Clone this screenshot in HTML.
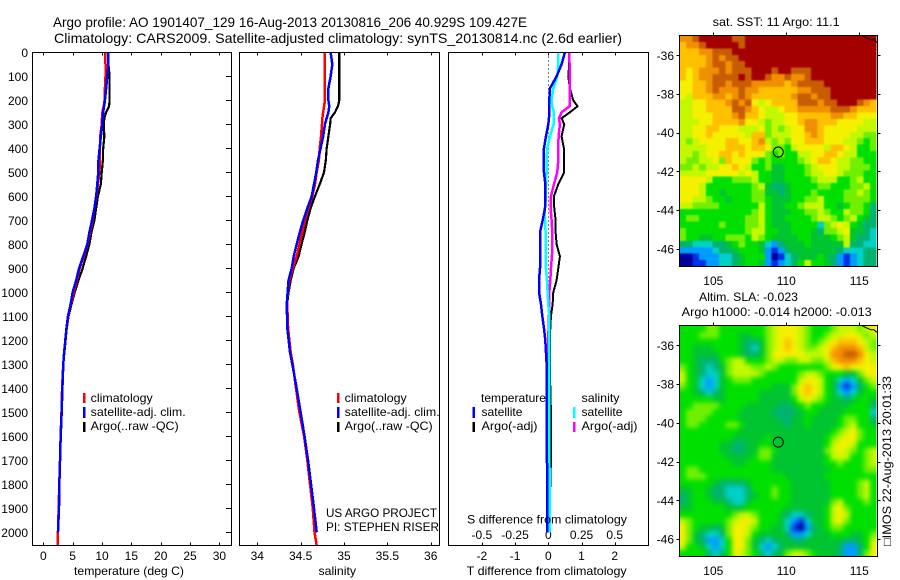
<!DOCTYPE html>
<html>
<head>
<meta charset="utf-8">
<title>Argo profile</title>
<style>
html,body{margin:0;padding:0;background:#fff;}
svg{display:block;}
text{font-family:"Liberation Sans",sans-serif;font-size:12px;fill:#000;}
</style>
</head>
<body>
<svg id="fig" width="900" height="580" viewBox="0 0 900 580" xmlns="http://www.w3.org/2000/svg">
<defs>
<clipPath id="sstClip"><rect x="679.5" y="35.5" width="197" height="231"/></clipPath>
<clipPath id="slaClip"><rect x="679.5" y="325.5" width="197" height="231"/></clipPath>
<filter id="sstBlur" x="-10%" y="-10%" width="120%" height="120%" color-interpolation-filters="sRGB"><feGaussianBlur stdDeviation="0.9"/></filter>
<filter id="slaBlur" x="-10%" y="-10%" width="120%" height="120%" color-interpolation-filters="sRGB"><feGaussianBlur stdDeviation="2.4"/></filter>
</defs>
<rect width="900" height="580" fill="#fff"/>
<g id="marks"></g>
<g id="frames" fill="none" stroke="#000" stroke-width="1" shape-rendering="crispEdges">
<rect x="32.5" y="52.5" width="199" height="493"/>
<rect x="239.5" y="52.5" width="200" height="493"/>
<rect x="448.5" y="52.5" width="200" height="493"/>
<rect x="679.5" y="35.5" width="198" height="231"/>
<rect x="679.5" y="325.5" width="198" height="231"/>
</g>
<text x="53" y="27" style="font-size:14px" textLength="474" lengthAdjust="spacingAndGlyphs">Argo profile: AO 1901407_129 16-Aug-2013 20130816_206 40.929S 109.427E</text>
<text x="54" y="43" style="font-size:14px" textLength="568" lengthAdjust="spacingAndGlyphs">Climatology: CARS2009. Satellite-adjusted climatology: synTS_20130814.nc (2.6d earlier)</text>
<text x="74" y="575" textLength="110" lengthAdjust="spacingAndGlyphs">temperature (deg C)</text>
<text x="318.5" y="575" textLength="37.5" lengthAdjust="spacingAndGlyphs">salinity</text>
<text x="466.7" y="575" textLength="160" lengthAdjust="spacingAndGlyphs">T difference from climatology</text>
<text x="467" y="523.5" textLength="160" lengthAdjust="spacingAndGlyphs">S difference from climatology</text>
<text x="326" y="517" textLength="111" lengthAdjust="spacingAndGlyphs">US ARGO PROJECT</text>
<text x="326" y="531" textLength="113" lengthAdjust="spacingAndGlyphs">PI: STEPHEN RISER</text>
<g>
<rect x="83" y="393" width="2.5" height="10" fill="#f00"/>
<rect x="83" y="407" width="2.5" height="11" fill="#00f"/>
<rect x="83" y="422" width="2.5" height="10" fill="#000"/>
<text x="90.7" y="402" textLength="62" lengthAdjust="spacingAndGlyphs">climatology</text>
<text x="90.7" y="416" textLength="95" lengthAdjust="spacingAndGlyphs">satellite-adj. clim.</text>
<text x="90.7" y="430" textLength="88" lengthAdjust="spacingAndGlyphs">Argo(..raw -QC)</text>
</g>
<g>
<rect x="337" y="393" width="2.5" height="10" fill="#f00"/>
<rect x="337" y="407" width="2.5" height="11" fill="#00f"/>
<rect x="337" y="422" width="2.5" height="10" fill="#000"/>
<text x="344.7" y="402" textLength="62" lengthAdjust="spacingAndGlyphs">climatology</text>
<text x="344.7" y="416" textLength="95" lengthAdjust="spacingAndGlyphs">satellite-adj. clim.</text>
<text x="344.7" y="430" textLength="88" lengthAdjust="spacingAndGlyphs">Argo(..raw -QC)</text>
</g>
<g>
<text x="481" y="402" textLength="65" lengthAdjust="spacingAndGlyphs">temperature</text>
<text x="481.5" y="416" textLength="41" lengthAdjust="spacingAndGlyphs">satellite</text>
<text x="481.5" y="430" textLength="56" lengthAdjust="spacingAndGlyphs">Argo(-adj)</text>
<rect x="472.5" y="407" width="2.5" height="11" fill="#00f"/>
<rect x="472.5" y="422" width="2.5" height="10" fill="#000"/>
<text x="581.5" y="402" textLength="38" lengthAdjust="spacingAndGlyphs">salinity</text>
<text x="581.5" y="416" textLength="41" lengthAdjust="spacingAndGlyphs">satellite</text>
<text x="581.5" y="430" textLength="56" lengthAdjust="spacingAndGlyphs">Argo(-adj)</text>
<rect x="573" y="407" width="2.5" height="11" fill="#0ff"/>
<rect x="573" y="422" width="2.5" height="10" fill="#f0f"/>
</g>
<text x="712.7" y="26" textLength="127" lengthAdjust="spacingAndGlyphs">sat. SST: 11 Argo: 11.1</text>
<text x="699" y="301" textLength="99" lengthAdjust="spacingAndGlyphs">Altim. SLA: -0.023</text>
<text x="681.7" y="316" textLength="190" lengthAdjust="spacingAndGlyphs">Argo h1000: -0.014 h2000: -0.013</text>
<text transform="translate(891,546) rotate(-90)" x="0" y="0" textLength="170" lengthAdjust="spacingAndGlyphs">□IMOS 22-Aug-2013 20:01:33</text>
</svg>
<script>
// ---- profile data ----
var depths = [0,50,100,150,200,225,250,275,300,350,400,450,500,550,600,650,700,750,800,850,900,950,1000,1050,1100,1150,1200,1250,1300,1400,1500,1600,1700,1800,1900,2000,2055];
var depthTicks = [0,100,200,300,400,500,600,700,800,900,1000,1100,1200,1300,1400,1500,1600,1700,1800,1900,2000];
var tempTicks = [0,5,10,15,20,25,30];
var salTicks = [34,34.5,35,35.5,36];
var salTickLabels = ['34','34.5','35','35.5','36'];
var tDiffTicks = [-2,-1,0,1,2];
var sDiffTicks = [-0.5,-0.25,0,0.25,0.5];
var sDiffLabels = ['-0.5','-0.25','0','0.25','0.5'];

var tempClim = [10.55,10.6,10.6,10.5,10.45,10.3,10.05,10,9.95,9.7,9.65,9.65,9.55,9.3,9.05,8.7,8.4,7.95,7.55,6.9,6.2,5.7,5.2,4.7,4.25,3.95,3.75,3.55,3.4,3.2,3.1,2.95,2.85,2.72,2.62,2.5,2.5];
var tempSat = [11.1,11.1,10.9,10.7,10.5,10.35,10.2,10.1,10.05,9.8,9.6,9.4,9.37,9.2,9,8.7,8.3,7.85,7.5,6.8,6.1,5.6,5,4.65,4.2,3.95,3.75,3.55,3.4,3.25,3.13,2.96,2.85,2.73,2.67,2.5];
var tempArgo = [11.1,11.1,11.3,11.3,11.3,11.2,10.7,10.4,10.3,10.4,10.2,10.15,9.95,9.8,9.3,9,8.7,8.2,7.85,7.3,6.7,6,5.35,4.8,4.3,4,3.8,3.6,3.4,3.25,3.13,2.96,2.85,2.73,2.67,2.5];
var salClim = [34.78,34.78,34.78,34.78,34.78,34.77,34.76,34.75,34.746,34.735,34.72,34.71,34.685,34.665,34.634,34.59,34.55,34.52,34.485,34.454,34.41,34.37,34.35,34.345,34.35,34.355,34.37,34.385,34.41,34.446,34.485,34.54,34.577,34.608,34.64,34.66,34.685];
var salSat = [34.846,34.865,34.846,34.82,34.82,34.83,34.82,34.8,34.78,34.76,34.73,34.7,34.68,34.654,34.627,34.577,34.53,34.49,34.454,34.42,34.397,34.36,34.35,34.34,34.343,34.346,34.362,34.377,34.404,34.454,34.5,34.545,34.585,34.62,34.654,34.685];
var salArgo = [34.946,34.946,34.946,34.946,34.946,34.93,34.896,34.846,34.84,34.82,34.8,34.79,34.77,34.72,34.665,34.615,34.577,34.547,34.51,34.477,34.42,34.385,34.36,34.345,34.345,34.35,34.365,34.38,34.405,34.455,34.5,34.545,34.585,34.62,34.654,34.68];
var tDiffSat = [0.5,0.4,0.25,0.05,0.03,0.03,0.03,0.02,0,-0.07,-0.13,-0.13,-0.13,-0.09,-0.09,-0.1,-0.17,-0.25,-0.25,-0.25,-0.25,-0.28,-0.28,-0.22,-0.18,-0.13,-0.09,-0.07,-0.05,-0.05,-0.04,-0.04,-0.04,-0.03,-0.03,-0.03];
var tDiffArgo = [0.63,0.63,0.6,0.65,0.75,0.88,0.65,0.4,0.48,0.4,0.47,0.48,0.48,0.3,0.17,0.18,0.22,0.22,0.25,0.35,0.3,0.25,0.15,0.13,0.08,0.06,0.05,0.05,0.05,0.06,0.08,0.08,0.08,0.06,0.05,0.03];
var sDiffSat = [0.075,0.075,0.0675,0.0375,0.025,0.03,0.0425,0.04,0.04,0.0125,-0.0075,-0.0125,-0.0125,-0.0175,-0.0175,-0.025,-0.025,-0.02,-0.02,-0.018,-0.018,-0.01,-0.005,0,0.0075,0.0075,0.0075,0.0075,0.0075,0.0075,0.0075,0.0075,0.0075,0.0125,0.0125,0.0125];
var sDiffArgo = [0.1575,0.16,0.16,0.16,0.1625,0.16,0.1,0.08,0.0875,0.0775,0.075,0.075,0.0675,0.0425,0.02,0.0175,0.025,0.03,0.03,0.0275,0.02,0.015,0.0075,0.0075,0.005,0.002,0,-0.002,-0.005,-0.005,-0.0075,-0.0075,-0.0075,-0.005,0,0.005];

// ---- map data ----
var lonTicks = [105,110,115];
var latTicks = [-36,-38,-40,-42,-44,-46];
var floatLon = [109.45];
var floatLat = [-41];
var coastLon = [115.15,115.5,115.8,116.0,116.25];
var coastLat = [-34.97,-35.1,-35.2,-35.2,-35.33];
var levelColors = ['#00009b','#0030e8','#009cff','#00d0c8','#00b470','#00c430','#00e000','#70f000','#c4f800','#f4f000','#ffc000','#f09000','#c85c00','#a50000'];

var sstRows = [
[11,11,12,13,13,13,13,13,12,12,13,13,13,13,13,13,13,13,13,13,13,13,13,13,13,13,13,13,13,13],
[10,11,11,12,13,13,13,13,13,12,13,13,13,13,13,13,13,13,13,13,13,13,13,13,13,13,13,13,13,13],
[10,10,10,11,11,12,12,12,13,13,13,13,13,13,13,13,13,13,13,13,13,13,13,13,13,13,13,13,13,13],
[10,10,10,10,11,12,11,12,12,13,13,13,13,13,13,13,13,13,13,13,13,13,13,13,13,13,13,13,13,13],
[10,10,10,10,11,12,12,11,12,12,13,13,13,13,13,13,13,13,13,13,13,13,13,13,13,13,13,13,13,13],
[10,9,10,11,11,11,12,11,12,12,12,13,13,13,12,13,13,12,12,12,13,13,13,13,13,13,13,13,13,13],
[10,9,10,11,11,12,12,12,12,13,12,13,13,12,11,11,12,11,11,12,13,13,13,13,13,13,13,13,13,13],
[9,9,10,10,11,12,12,11,12,12,12,11,11,11,11,11,10,11,12,12,12,12,13,13,13,13,13,13,13,13],
[9,9,10,10,11,12,11,11,11,12,11,11,10,10,10,10,10,10,11,11,12,12,12,13,13,13,13,13,13,13],
[9,8,10,10,10,11,11,10,11,12,11,10,10,10,10,10,10,11,12,12,11,12,12,13,13,13,13,13,13,13],
[8,8,9,9,10,10,10,11,12,11,12,9,8,9,10,10,10,10,12,12,12,11,12,12,13,13,13,12,11,10],
[8,8,9,9,10,10,10,10,12,12,11,10,9,8,8,9,10,10,11,11,11,11,11,12,12,12,11,10,10,10],
[8,8,9,9,9,10,10,10,11,12,10,10,9,8,8,8,9,9,10,10,10,10,10,11,11,10,10,9,9,9],
[8,8,8,9,9,10,10,10,10,11,9,9,8,7,8,8,9,9,10,11,11,10,10,10,9,9,9,9,8,8],
[8,8,9,9,10,10,9,9,9,8,8,8,9,7,8,7,8,9,9,11,11,10,9,9,9,9,9,8,8,8],
[8,8,9,9,10,9,9,9,9,9,8,10,10,7,8,8,8,9,9,10,11,10,9,9,9,9,8,8,7,7],
[8,7,8,9,9,9,9,10,10,9,9,10,11,8,7,8,7,9,9,10,10,10,9,9,9,8,8,7,6,7],
[8,8,8,8,9,9,9,10,10,10,9,10,10,9,7,7,6,8,9,9,9,9,8,10,10,9,8,6,6,7],
[8,8,7,8,9,9,10,10,9,10,9,9,9,7,6,7,6,6,8,8,9,9,10,10,9,8,8,6,6,6],
[8,7,7,8,8,9,7,10,9,9,9,7,6,7,6,6,6,6,7,8,9,10,10,9,8,8,7,7,6,6],
[7,7,8,7,8,8,9,9,10,9,8,6,6,7,5,5,6,6,6,7,8,9,9,9,8,8,7,7,7,6],
[8,8,8,8,9,9,9,9,9,8,9,8,6,6,5,5,6,6,6,7,8,8,9,9,8,7,7,7,6,6],
[9,9,9,9,8,6,6,6,7,7,7,8,6,6,5,5,6,6,6,6,7,8,8,8,6,6,7,8,6,6],
[9,9,9,8,6,6,6,6,6,6,6,7,8,5,4,4,5,6,6,6,6,7,7,6,6,6,7,7,8,6],
[9,9,9,8,6,6,5,6,6,6,6,7,7,5,5,4,5,6,6,6,7,6,6,6,6,7,7,8,7,6],
[9,9,8,8,7,6,6,5,6,6,6,7,7,6,5,5,5,6,6,7,7,8,6,6,6,7,7,7,7,6],
[8,8,7,7,7,7,6,6,6,6,6,6,8,6,5,5,6,6,7,8,8,8,6,6,5,6,7,7,6,4],
[6,6,6,6,6,6,6,6,6,6,6,7,8,6,5,5,5,6,6,7,7,8,7,6,6,8,7,7,6,4],
[6,7,7,6,6,6,6,6,6,6,7,7,8,6,5,5,6,6,6,6,7,8,8,7,6,7,8,6,5,4],
[6,6,6,6,6,6,7,6,6,6,7,7,8,6,5,5,5,6,6,6,6,3,7,8,9,8,6,5,4,4],
[7,6,6,6,6,6,6,6,6,6,7,8,8,6,6,5,5,6,6,6,5,4,7,7,8,9,5,5,4,3],
[7,6,6,5,5,6,6,7,7,7,6,8,7,6,5,5,5,5,6,6,5,5,5,6,7,8,5,4,4,3],
[4,4,3,3,3,4,4,5,6,7,6,6,5,3,2,4,5,5,5,6,5,5,5,5,5,8,4,4,3,3],
[2,2,2,2,2,3,4,4,5,6,6,6,5,2,1,2,4,5,5,5,5,5,5,5,4,3,3,3,4,4],
[0,0,1,2,2,2,3,3,4,5,6,6,6,2,0,1,3,4,5,5,5,6,5,4,2,1,2,3,4,4],
[0,0,1,1,2,2,3,3,4,5,6,6,5,2,1,2,3,4,6,8,6,6,5,4,2,1,2,3,4,4]
];
var slaRows = [
[6,6,6,6,7,7,6,6,6,6,6,6,6,7,8,9,9,9,8,7,6,6,6,7,8,8,8,7,8,9],
[6,6,6,7,7,7,6,6,6,5,5,6,6,7,8,9,9,9,8,7,6,6,7,8,8,9,9,8,7,8],
[6,6,6,6,6,6,6,6,6,5,4,4,5,7,8,9,10,9,8,7,6,7,8,9,10,10,10,9,8,7],
[6,6,5,5,5,6,6,6,6,5,4,3,5,7,8,9,10,9,8,7,7,8,9,10,11,11,11,10,8,7],
[6,6,5,5,5,5,6,6,6,5,4,4,5,7,9,9,9,9,9,8,8,8,9,11,11,12,12,11,9,8],
[6,6,5,4,4,4,6,7,8,8,6,6,6,7,8,8,7,7,8,8,7,7,8,10,11,11,11,10,9,8],
[7,6,5,4,3,4,5,7,8,8,8,7,7,8,7,6,6,6,6,6,6,6,7,9,9,10,9,9,9,9],
[8,6,5,4,3,3,5,7,8,8,8,8,7,6,6,6,6,6,7,8,8,7,6,6,6,5,5,7,9,9],
[8,6,5,3,2,3,5,6,7,7,7,6,6,6,6,6,6,6,8,9,9,8,6,5,3,2,3,5,7,8],
[7,6,5,3,2,3,5,6,6,6,6,6,6,6,5,5,5,7,9,10,9,8,6,5,2,1,2,4,6,7],
[6,6,5,4,3,4,5,6,6,6,6,6,5,5,5,5,5,7,9,10,9,8,6,5,3,2,3,5,6,6],
[6,6,6,6,6,5,5,6,6,6,6,6,5,5,5,5,5,6,8,9,8,7,6,5,5,4,5,6,6,5],
[6,6,7,7,7,7,6,6,6,6,5,5,5,5,5,4,4,5,6,7,6,6,5,5,5,5,6,6,6,4],
[6,7,7,7,7,6,6,6,6,5,5,5,5,5,4,4,4,4,5,6,6,5,5,5,5,6,6,6,6,3],
[6,7,7,7,6,6,6,6,6,5,5,5,5,5,5,4,4,5,5,6,5,5,5,5,6,7,7,6,6,4],
[6,7,7,6,6,6,6,7,7,6,5,5,5,5,5,5,4,5,5,6,5,5,5,5,6,7,8,6,6,5],
[6,6,6,6,6,6,6,6,6,5,5,5,5,5,5,5,5,5,5,5,5,5,5,6,7,8,9,7,6,6],
[6,6,6,6,6,6,6,6,5,5,5,5,5,6,5,5,5,5,5,5,5,5,6,7,8,9,9,7,6,6],
[6,6,6,6,6,6,5,5,4,4,5,5,6,6,5,5,5,5,5,5,5,5,6,8,9,9,8,6,6,6],
[6,6,6,6,6,6,5,5,4,4,5,5,7,7,6,5,5,5,5,5,5,5,7,8,9,8,7,6,7,8],
[6,6,6,6,6,6,6,5,5,5,5,6,7,7,5,5,5,5,5,5,5,5,6,8,8,8,6,6,7,8],
[6,6,6,6,6,6,6,6,5,5,6,6,6,6,5,5,5,5,5,5,5,5,6,6,7,6,6,6,7,8],
[6,7,7,6,6,6,6,6,6,6,6,6,6,6,5,5,5,5,5,5,5,5,5,6,6,6,6,6,7,7],
[6,7,7,7,6,6,6,6,6,6,6,6,6,6,6,6,5,5,5,5,5,5,6,6,6,6,6,6,6,6],
[6,6,6,6,6,5,4,4,4,4,5,6,6,6,6,6,6,5,5,5,5,5,5,6,6,6,6,7,8,6],
[5,5,6,6,5,4,4,3,3,3,4,6,6,6,7,6,6,5,5,5,5,5,5,6,6,6,6,7,8,6],
[4,5,6,6,5,4,4,3,3,3,4,5,6,6,7,6,6,5,5,5,5,5,5,6,6,6,6,7,8,6],
[4,5,6,6,6,5,5,4,3,3,5,6,6,6,6,6,6,5,5,5,5,5,5,7,8,6,6,6,7,6],
[5,5,6,6,6,6,6,5,5,5,6,6,6,6,6,6,5,5,5,5,5,5,6,8,9,7,6,6,6,6],
[6,6,6,6,6,6,6,6,7,8,8,7,6,6,6,5,4,3,3,4,5,5,6,8,9,8,6,6,6,6],
[8,7,6,6,6,6,6,7,8,9,9,8,6,6,6,5,3,2,1,3,5,5,6,8,9,7,6,6,6,6],
[9,7,6,5,5,4,5,7,9,9,8,7,6,6,5,5,3,1,0,2,4,5,6,7,7,6,6,6,6,6],
[9,7,5,4,3,3,4,7,9,9,8,6,5,5,5,5,4,2,2,3,5,5,5,6,6,6,5,5,6,7],
[9,7,5,4,2,2,3,6,9,9,7,5,4,3,4,5,5,4,4,5,5,5,5,5,5,4,4,5,6,8],
[8,6,6,5,3,2,3,6,9,9,7,5,3,2,3,4,5,5,5,5,5,5,5,5,4,2,2,4,6,9],
[6,6,6,6,4,3,4,6,9,8,7,6,4,3,4,5,7,8,8,7,6,5,5,5,4,2,2,4,7,9]
];

// ---- axis functions ----
var NS = 'http://www.w3.org/2000/svg';
var root = document.getElementById('marks');
function yDepth(d){return 52.3 + d*0.24;}
function xTemp(t){return 43.3 + t*5.87;}
function xSal(s){return 257.3 + (s-34)*86.7;}
function xTDiff(t){return 548.3 + t*33.2;}
function xSDiff(s){return 548.3 + s*132.8;}
function xLon(lon){return 713.3 + (lon-105)*14.6;}
function yLatTop(lat){return 55.3 + (-36-lat)*19.35;}
function yLatBot(lat){return 345.3 + (-36-lat)*19.37;}

function make(tag, attrs, text, parent){
  var el = document.createElementNS(NS, tag);
  for (var k in attrs) el.setAttribute(k, attrs[k]);
  if (text !== undefined && text !== null) el.textContent = text;
  (parent || root).appendChild(el);
  return el;
}

function drawProfile(values, xf, color, width, name){
  var pts = [];
  for (var i = 0; i < values.length; i++) pts.push(xf(values[i]).toFixed(2) + ',' + yDepth(depths[i]).toFixed(2));
  var el = make('polyline', {points: pts.join(' '), fill:'none', stroke:color, 'stroke-width':width, 'shape-rendering':'crispEdges'});
  
  
}

function tick(x1, y1, x2, y2){
  var el = make('line', {x1:x1, y1:y1, x2:x2, y2:y2, stroke:'#000', 'stroke-width':1, 'shape-rendering':'crispEdges'});
  
  
}
function label(x, y, txt, anchor){
  var el = make('text', {x:x, y:y, 'text-anchor':anchor||'middle'}, txt);
  
  
}

// maps: cells are drawn from the rows; outer cells bleed past the frame so the blur keeps edges solid
function drawMap(rows, top, name, clipId, filterId){
  var x0 = 679.5, w = 197, h = 231, bleed = 12;
  var nRows = rows.length;
  var clipGroup = make('g', {'clip-path':'url(#' + clipId + ')'});
  
  
  var blurGroup = make('g', {filter:'url(#' + filterId + ')'}, null, clipGroup);
  function cellX(c, n){return x0 + c*w/n;}
  function cellY(r){return top + r*h/nRows;}
  for (var r = 0; r < nRows; r++){
    var n = rows[r].length;
    for (var c = 0; c < n; c++){
      var x = cellX(c, n), y = cellY(r);
      var cw = w/n + 0.4, ch = h/nRows + 0.4;
      if (c === 0){ x -= bleed; cw += bleed; }
      if (c === n-1){ cw += bleed; }
      if (r === 0){ y -= bleed; ch += bleed; }
      if (r === nRows-1){ ch += bleed; }
      var el = make('rect', {x:x.toFixed(2), y:y.toFixed(2), width:cw.toFixed(2), height:ch.toFixed(2), fill:levelColors[rows[r][c]], 'shape-rendering':'crispEdges'}, null, blurGroup);
      
      
    }
  }
}
drawMap(sstRows, 35.5, 'sst', 'sstClip', 'sstBlur');
drawMap(slaRows, 325.5, 'sla', 'slaClip', 'slaBlur');

function drawCoast(yf){
  var pts = [];
  for (var i = 0; i < coastLon.length; i++) pts.push(Math.min(xLon(coastLon[i]),877).toFixed(1) + ',' + yf(coastLat[i]).toFixed(1));
  var el = make('polyline', {points: pts.join(' '), fill:'none', stroke:'#000', 'stroke-width':1});
  
  
}
drawCoast(yLatTop);
drawCoast(yLatBot);

function drawFloat(yf){
  var el = make('circle', {cx:xLon(floatLon[0]), cy:yf(floatLat[0]), r:5, fill:'none', stroke:'#000', 'stroke-width':1});
  
  
}
drawFloat(yLatTop);
drawFloat(yLatBot);

function mapAxes(top, bottom, yf, labelY){
  lonTicks.forEach(function(lon){
    var x = Math.round(xLon(lon)) + 0.5;
    tick(x, top-3, x, top);
    label(xLon(lon), labelY, String(lon));
  });
  latTicks.forEach(function(lat){
    var y = Math.round(yf(lat)) + 0.5;
    tick(676.5, y, 679.5, y);
    tick(877.5, y, 880.5, y);
    label(674, yf(lat)+4.5, String(lat), 'end');
  });
}
mapAxes(35.5, 266.5, yLatTop, 285);
mapAxes(325.5, 556.5, yLatBot, 575);

// profile axes
depthTicks.forEach(function(d){
  var y = Math.round(yDepth(d)) + 0.5;
  tick(226, y, 231.5, y);
  label(28, yDepth(d)+4.5, String(d), 'end');
});
tempTicks.forEach(function(t){
  var x = Math.round(xTemp(t)) + 0.5;
  tick(x, 52.5, x, 55.5);
  tick(x, 542.5, x, 545.5);
  label(xTemp(t), 560, String(t));
});
salTicks.forEach(function(s, i){
  var x = Math.round(xSal(s)) + 0.5;
  tick(x, 52.5, x, 55.5);
  tick(x, 542.5, x, 545.5);
  label(xSal(s), 560, salTickLabels[i]);
});
tDiffTicks.forEach(function(t){
  var x = Math.round(xTDiff(t)) + 0.5;
  tick(x, 52.5, x, 55.5);
  tick(x, 542.5, x, 545.5);
  label(xTDiff(t), 560, String(t));
});
sDiffTicks.forEach(function(s, i){
  label(xSDiff(s), 539, sDiffLabels[i]);
});

// zero reference line
var zeroLine = make('line', {x1:548.5, y1:yDepth(0), x2:548.5, y2:yDepth(1000), stroke:'#000', 'stroke-width':1, 'stroke-dasharray':'1 3', 'shape-rendering':'crispEdges'});



// series
drawProfile(tempArgo, xTemp, '#000', 2.2, 'temperature-argo-line');
drawProfile(tempClim, xTemp, '#f00', 2.5, 'temperature-climatology-line');
drawProfile(tempSat, xTemp, '#00f', 2.5, 'temperature-satellite-line');
drawProfile(salArgo, xSal, '#000', 2.2, 'salinity-argo-line');
drawProfile(salClim, xSal, '#f00', 2.5, 'salinity-climatology-line');
drawProfile(salSat, xSal, '#00f', 2.5, 'salinity-satellite-line');
drawProfile(tDiffArgo, xTDiff, '#000', 2, 'temperature-difference-argo-line');
drawProfile(sDiffArgo, xSDiff, '#f0f', 2.5, 'salinity-difference-argo-line');
drawProfile(sDiffSat, xSDiff, '#0ff', 2.5, 'salinity-difference-satellite-line');
drawProfile(tDiffSat, xTDiff, '#00f', 2.5, 'temperature-difference-satellite-line');
</script>
</body>
</html>
